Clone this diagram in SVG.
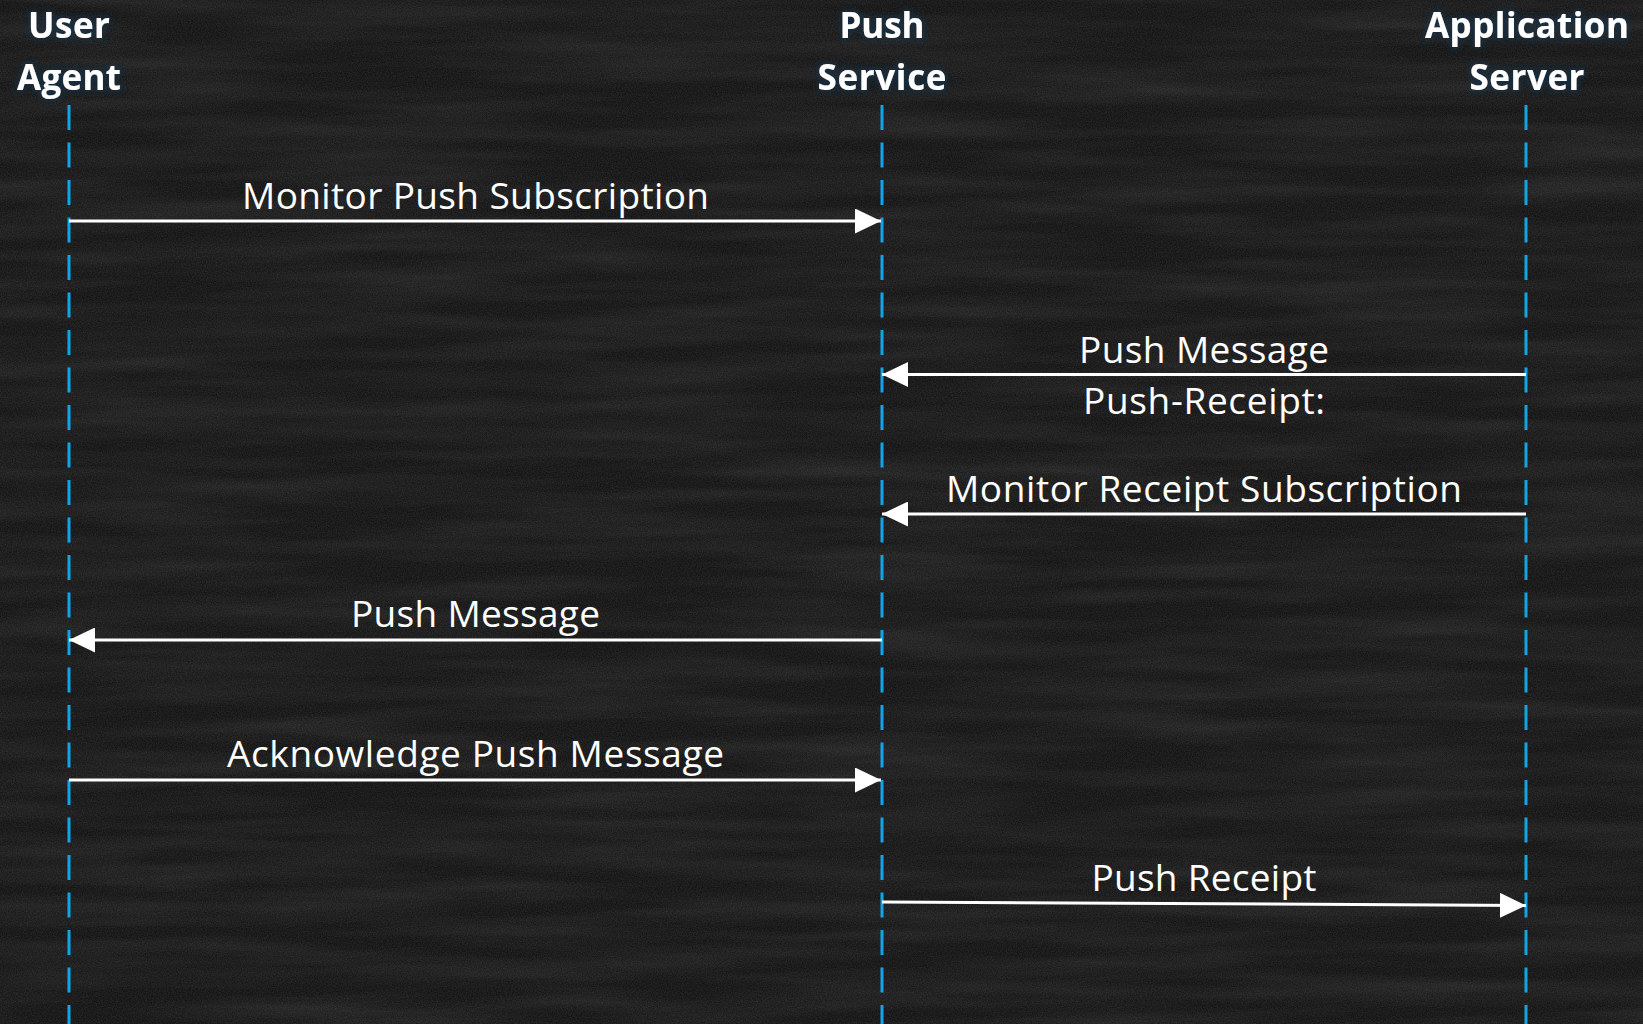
<svg xmlns="http://www.w3.org/2000/svg" width="1643" height="1024" viewBox="0 0 1643 1024">
  <defs>
    <style>
      .head { font-family: "Open Sans", "Liberation Sans", sans-serif; font-weight: 700; font-size: 35px; fill: #ffffff; text-anchor: middle; }
      .lbl { font-family: "Open Sans", "Liberation Sans", sans-serif; font-weight: 400; font-size: 37px; fill: #ffffff; text-anchor: middle; }
      .life { stroke: #12a4e6; stroke-width: 3; stroke-dasharray: 25 12.5; fill: none; }
      .msg { stroke: #ffffff; stroke-width: 3; fill: none; }
    </style>
    <marker id="arrow" viewBox="0 0 26 25" refX="26" refY="12.5" markerWidth="26" markerHeight="25" markerUnits="userSpaceOnUse" orient="auto">
      <path d="M0,0 L26,12.5 L0,25 Z" fill="#ffffff"/>
    </marker>
    <!-- chalkboard grain -->
    <filter id="streaks" x="0" y="0" width="100%" height="100%">
      <feTurbulence type="fractalNoise" baseFrequency="0.004 0.05" numOctaves="3" seed="7" result="n"/>
      <feColorMatrix in="n" type="matrix" values="0 0 0 0 1  0 0 0 0 1  0 0 0 0 1  0 0 0 0.12 -0.04"/>
    </filter>
    <filter id="grain" x="0" y="0" width="100%" height="100%">
      <feTurbulence type="fractalNoise" baseFrequency="0.8" numOctaves="2" seed="3" result="g"/>
      <feColorMatrix in="g" type="matrix" values="0 0 0 0 1  0 0 0 0 1  0 0 0 0 1  0 0 0 0.14 -0.04"/>
    </filter>
    <filter id="halo" x="-20%" y="-40%" width="140%" height="180%">
      <feMorphology in="SourceAlpha" operator="dilate" radius="2" result="d"/>
      <feGaussianBlur in="d" stdDeviation="3" result="b"/>
      <feFlood flood-color="#16324a" flood-opacity="0.7"/>
      <feComposite in2="b" operator="in" result="glow"/>
      <feMerge>
        <feMergeNode in="glow"/>
        <feMergeNode in="SourceGraphic"/>
      </feMerge>
    </filter>
  </defs>

  <!-- background -->
  <rect width="1643" height="1024" fill="#151515"/>
  <rect width="1643" height="1024" filter="url(#streaks)"/>
  <rect width="1643" height="1024" filter="url(#grain)"/>

  <!-- participants -->
  <g id="user-agent">
    <text class="head" x="69" y="38" textLength="82" filter="url(#halo)">User</text>
    <text class="head" x="69" y="90" textLength="104" filter="url(#halo)">Agent</text>
    <line class="life" x1="69" y1="105" x2="69" y2="1024"/>
  </g>
  <g id="push-service">
    <text class="head" x="882" y="38" textLength="85" filter="url(#halo)">Push</text>
    <text class="head" x="882" y="90" textLength="129" filter="url(#halo)">Service</text>
    <line class="life" x1="882" y1="105" x2="882" y2="1024"/>
  </g>
  <g id="application-server">
    <text class="head" x="1527" y="38" textLength="204" filter="url(#halo)">Application</text>
    <text class="head" x="1527" y="90" textLength="115" filter="url(#halo)">Server</text>
    <line class="life" x1="1526" y1="105" x2="1526" y2="1024"/>
  </g>

  <!-- messages -->
  <g id="connectors">
    <line class="msg" x1="69" y1="221" x2="881" y2="221" marker-end="url(#arrow)"/>
    <text class="lbl" x="475.5" y="209" textLength="467">Monitor Push Subscription</text>

    <line class="msg" x1="1526" y1="374.5" x2="882" y2="374.5" marker-end="url(#arrow)"/>
    <text class="lbl" x="1204" y="363" textLength="250">Push Message</text>
    <text class="lbl" x="1204" y="414" textLength="242">Push-Receipt:</text>

    <line class="msg" x1="1526" y1="514" x2="882" y2="514" marker-end="url(#arrow)"/>
    <text class="lbl" x="1204" y="502" textLength="516">Monitor Receipt Subscription</text>

    <line class="msg" x1="882" y1="640" x2="69" y2="640" marker-end="url(#arrow)"/>
    <text class="lbl" x="475.5" y="627" textLength="249">Push Message</text>

    <line class="msg" x1="69" y1="780" x2="881" y2="780" marker-end="url(#arrow)"/>
    <text class="lbl" x="475.5" y="767" textLength="497">Acknowledge Push Message</text>

    <line class="msg" x1="882" y1="902" x2="1526" y2="905.5" marker-end="url(#arrow)"/>
    <text class="lbl" x="1204" y="891" textLength="225">Push Receipt</text>
  </g>
</svg>
